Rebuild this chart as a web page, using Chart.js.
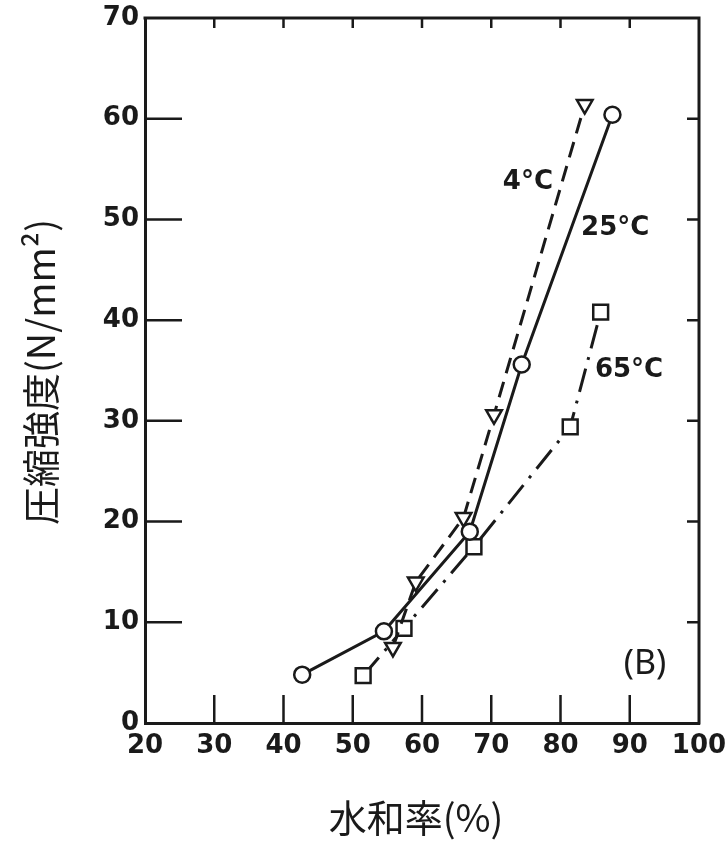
<!DOCTYPE html>
<html lang="ja">
<head>
    <meta charset="UTF-8">
    <title>圧縮強度と水和率</title>
    <script src="https://cdn.jsdelivr.net/npm/chart.js@4.4.0/dist/chart.umd.min.js"></script>
    <style>
        html, body { margin: 0; padding: 0; background: #fff; }
        #wrap { width: 725px; height: 841px; }
    </style>
</head>
<body>
<div id="wrap">
    <canvas id="myChart" width="725" height="841"></canvas>
</div>

<script>
    // valeurs (B)
    const xTicks = [20, 30, 40, 50, 60, 70, 80, 90, 100];
    const yTicks = [0, 10, 20, 30, 40, 50, 60, 70];

    const hydra25 = [42.7, 54.5, 66.9, 74.4, 87.5];
    const force25 = [4.8, 9.1, 19.0, 35.6, 60.4];

    const hydra4 = [55.8, 59.1, 66.0, 70.4, 83.5];
    const force4 = [7.5, 14.0, 20.4, 30.6, 61.4];

    const hydra65 = [51.5, 57.4, 67.5, 81.4, 85.8];
    const force65 = [4.7, 9.4, 17.5, 29.4, 40.8];

    const titreX = '水和率(%)';
    const titreY = '圧縮強度(N/mm²)';

    // étiquettes dans la zone du graphique (coordonnées en unités de données)
    const etiquettes = [
        { texte: '4°C', x: 75.3, y: 53.7, font: 'bold 26px "DejaVu Sans"' },
        { texte: '25°C', x: 87.9, y: 49.1, font: 'bold 26px "DejaVu Sans"' },
        { texte: '65°C', x: 89.9, y: 35.0, font: 'bold 26px "DejaVu Sans"' },
        { texte: '(B)', x: 92.2, y: 5.8, font: '34px "Noto Sans"' }
    ];

    const noir = '#1a1a1a';

    let points = (xs, ys) => xs.map((x, i) => ({ x: x, y: ys[i] }));

    // cadre, graduations vers l'intérieur, titres et étiquettes
    const decor = {
        id: 'decor',
        afterDraw(chart) {
            const ctx = chart.ctx;
            const area = chart.chartArea;
            const sx = chart.scales.x;
            const sy = chart.scales.y;
            ctx.save();
            ctx.strokeStyle = noir;

            // haut et droite du cadre
            ctx.lineWidth = 3;
            ctx.beginPath();
            ctx.moveTo(area.left - 1.5, area.top);
            ctx.lineTo(area.right, area.top);
            ctx.lineTo(area.right, area.bottom + 1.5);
            ctx.stroke();

            ctx.lineWidth = 2.5;
            ctx.beginPath();
            xTicks.slice(1, -1).forEach(v => {
                let px = sx.getPixelForValue(v);
                ctx.moveTo(px, area.bottom);
                ctx.lineTo(px, area.bottom - 28);
                ctx.moveTo(px, area.top);
                ctx.lineTo(px, area.top + 10);
            });
            yTicks.slice(1, -1).forEach(v => {
                let py = sy.getPixelForValue(v);
                ctx.moveTo(area.left, py);
                ctx.lineTo(area.left + 37, py);
                ctx.moveTo(area.right, py);
                ctx.lineTo(area.right - 12, py);
            });
            ctx.stroke();

            ctx.fillStyle = noir;
            ctx.textAlign = 'center';
            ctx.textBaseline = 'middle';
            etiquettes.forEach(e => {
                ctx.font = e.font;
                ctx.fillText(e.texte, sx.getPixelForValue(e.x), sy.getPixelForValue(e.y));
            });

            // titres des axes
            ctx.font = '38px "Noto Sans CJK JP"';
            ctx.fillText(titreX, 416, 818);
            ctx.translate(41, 372);
            ctx.rotate(-Math.PI / 2);
            ctx.fillText(titreY, 0, 0);
            ctx.restore();
        }
    };

    let serie = (label, xs, ys, style, dash, rayon) => ({
        label: label,
        data: points(xs, ys),
        showLine: true,
        borderColor: noir,
        borderWidth: 3,
        borderDash: dash,
        pointStyle: style,
        pointRotation: style === 'triangle' ? 180 : 0,
        pointRadius: rayon,
        pointBorderWidth: 2.5,
        pointBorderColor: noir,
        pointBackgroundColor: '#fff',
        tension: 0
    });

    const content = document.querySelector('#myChart').getContext('2d');
    const myChart = new Chart(content, {
        type: 'scatter',
        data: {
            datasets: [
                serie('25°C', hydra25, force25, 'circle', [], 8),
                serie('4°C', hydra4, force4, 'triangle', [16, 9], 9),
                serie('65°C', hydra65, force65, 'rect', [24, 9, 3, 9], 10.5)
            ]
        },
        options: {
            responsive: false,
            animation: false,
            layout: { padding: { left: 12, right: 26, top: 18, bottom: 8 } },
            plugins: {
                legend: { display: false },
                tooltip: { enabled: false }
            },
            scales: {
                x: {
                    type: 'linear',
                    min: 20,
                    max: 100,
                    afterBuildTicks: (scale) => { scale.ticks = xTicks.map(v => ({ value: v })); },
                    afterFit: (scale) => {
                        scale.height = 110;
                        scale.paddingLeft = 0;
                        scale.paddingRight = 0;
                    },
                    grid: { display: false, drawTicks: false },
                    border: { display: true, color: noir, width: 3 },
                    ticks: {
                        color: noir,
                        padding: 8,
                        maxRotation: 0,
                        font: { family: 'DejaVu Sans', size: 26, weight: 'bold' }
                    }
                },
                y: {
                    type: 'linear',
                    min: 0,
                    max: 70,
                    afterBuildTicks: (scale) => { scale.ticks = yTicks.map(v => ({ value: v })); },
                    afterFit: (scale) => {
                        scale.width = 133;
                        scale.paddingTop = 0;
                        scale.paddingBottom = 0;
                    },
                    grid: { display: false, drawTicks: false },
                    border: { display: true, color: noir, width: 3 },
                    ticks: {
                        color: noir,
                        padding: 6,
                        font: { family: 'DejaVu Sans', size: 26, weight: 'bold' }
                    }
                }
            }
        },
        plugins: [decor]
    });
</script>
</body>
</html>
